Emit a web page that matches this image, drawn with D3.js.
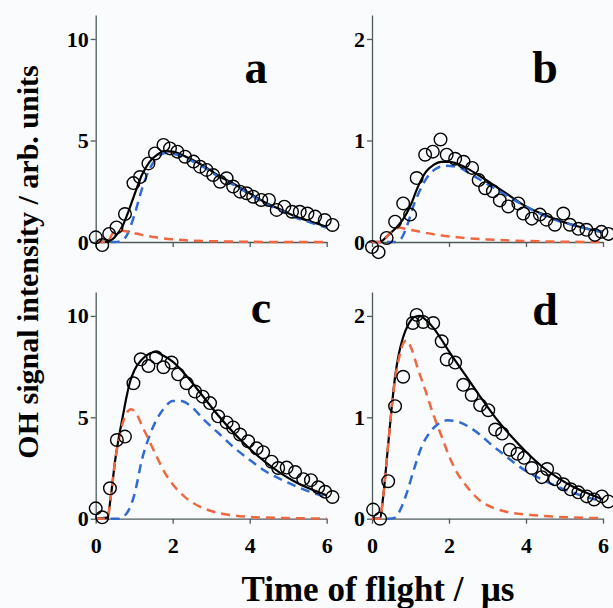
<!DOCTYPE html>
<html>
<head>
<meta charset="utf-8">
<script src="https://cdn.jsdelivr.net/npm/d3@7"></script>
<style>
  body { margin: 0; background: #fafbfd; }
  svg { display: block; font-family: "Liberation Serif", "Times New Roman", serif; font-weight: bold; }
</style>
</head>
<body>
<svg id="chart" width="613" height="608"></svg>
<script>
// ---- data (time in us, signal in arb. units) ----
var panelLabels = ["a", "b", "c", "d"];
var xTickValues = [0, 2, 4, 6];
var yTicksLarge = [0, 5, 10];
var yTicksSmall = [0, 1, 2];

// panel a
var aObs = [[0.0,0.23],[0.17,-0.15],[0.35,0.4],[0.54,0.72],[0.76,1.38],[0.98,2.9],[1.15,3.2],[1.37,3.87],[1.54,4.36],[1.76,4.78],[1.93,4.61],[2.12,4.45],[2.32,4.2],[2.54,3.96],[2.71,3.71],[2.88,3.55],[3.05,3.3],[3.23,2.97],[3.4,3.14],[3.57,2.73],[3.75,2.48],[3.92,2.4],[4.09,2.23],[4.3,2.07],[4.5,2.07],[4.7,1.58],[4.9,1.74],[5.1,1.49],[5.3,1.49],[5.5,1.4],[5.7,1.25],[5.95,1.08],[6.15,0.84]];
var aTotal = [[0,0],[0.3,0.02],[0.5,0.25],[0.7,0.8],[0.85,1.5],[1.0,2.3],[1.2,3.3],[1.4,3.95],[1.6,4.3],[1.8,4.48],[2.0,4.45],[2.4,4.15],[2.8,3.75],[3.2,3.25],[3.6,2.85],[4.0,2.4],[4.4,1.95],[4.8,1.6],[5.2,1.25],[5.6,1.0],[6.0,0.75]];
var aFast = [[0,0],[0.3,0],[0.45,0.45],[0.6,0.58],[0.9,0.48],[1.2,0.35],[1.6,0.22],[2.0,0.13],[2.5,0.07],[3.0,0.04],[4.0,0.01],[5.0,0],[6.0,0]];
var aSlow = [[0,0],[0.5,0],[0.65,0.05],[0.8,0.3],[1.0,1.3],[1.2,2.6],[1.4,3.6],[1.6,4.15],[1.8,4.38],[2.0,4.35],[2.4,4.08],[2.8,3.7],[3.2,3.2],[3.6,2.8],[4.0,2.35],[4.4,1.9],[4.8,1.55],[5.2,1.2],[5.6,0.95],[6.0,0.7]];

// panel b
var bObs = [[0.0,-0.05],[0.17,-0.1],[0.38,0.04],[0.6,0.2],[0.81,0.38],[0.99,0.27],[1.16,0.63],[1.38,0.86],[1.58,0.89],[1.78,1.01],[1.94,0.86],[2.16,0.82],[2.38,0.79],[2.6,0.73],[2.77,0.61],[2.94,0.53],[3.14,0.5],[3.32,0.41],[3.54,0.35],[3.8,0.38],[3.93,0.28],[4.15,0.23],[4.36,0.27],[4.53,0.22],[4.75,0.17],[4.97,0.28],[5.14,0.17],[5.36,0.13],[5.57,0.12],[5.79,0.07],[5.96,0.1],[6.14,0.08]];
var bTotal = [[0,0],[0.2,0],[0.4,0.06],[0.6,0.13],[0.8,0.22],[1.0,0.36],[1.2,0.55],[1.4,0.69],[1.6,0.76],[1.8,0.79],[2.0,0.79],[2.4,0.74],[2.8,0.65],[3.2,0.55],[3.6,0.45],[4.0,0.35],[4.4,0.28],[4.8,0.22],[5.2,0.17],[5.6,0.13],[6.0,0.1]];
var bFast = [[0,0],[0.25,0],[0.45,0.08],[0.7,0.14],[1.0,0.12],[1.4,0.09],[1.8,0.065],[2.4,0.04],[3.0,0.025],[4.0,0.01],[5.0,0.003],[6.0,0]];
var bSlow = [[0,0],[0.6,0],[0.75,0.03],[0.9,0.15],[1.1,0.38],[1.3,0.55],[1.5,0.67],[1.7,0.73],[1.9,0.75],[2.2,0.74],[2.6,0.66],[3.0,0.57],[3.4,0.48],[3.8,0.39],[4.2,0.31],[4.6,0.24],[5.0,0.19],[5.4,0.15],[5.8,0.11],[6.0,0.1]];

// panel c
var cObs = [[0.0,0.51],[0.17,0.07],[0.37,1.5],[0.55,3.88],[0.76,4.05],[0.98,6.68],[1.17,7.86],[1.37,7.53],[1.57,7.96],[1.76,7.47],[1.97,7.7],[2.14,7.12],[2.36,6.68],[2.58,6.27],[2.78,6.02],[2.97,5.7],[3.18,5.05],[3.4,4.75],[3.57,4.5],[3.75,4.15],[3.96,3.82],[4.18,3.47],[4.35,3.28],[4.57,2.81],[4.74,2.5],[4.96,2.52],[5.18,2.3],[5.39,1.95],[5.59,1.9],[5.78,1.55],[5.96,1.33],[6.15,1.07]];
var cTotal = [[0,0],[0.3,0.05],[0.4,1.2],[0.5,2.8],[0.6,4.0],[0.7,5.0],[0.8,6.0],[0.9,6.8],[1.0,7.3],[1.2,7.85],[1.4,8.15],[1.55,8.22],[1.7,8.1],[2.0,7.75],[2.4,6.95],[2.8,6.0],[3.2,5.05],[3.6,4.2],[4.0,3.45],[4.4,2.8],[4.8,2.25],[5.2,1.8],[5.6,1.45],[6.0,1.15]];
var cFast = [[0,0],[0.3,0],[0.4,1.2],[0.5,2.8],[0.6,3.9],[0.7,4.7],[0.8,5.2],[0.92,5.4],[1.05,5.2],[1.2,4.6],[1.4,3.8],[1.6,3.0],[1.8,2.25],[2.0,1.7],[2.3,1.1],[2.6,0.7],[3.0,0.38],[3.5,0.18],[4.0,0.09],[5.0,0.03],[6.0,0.01]];
var cSlow = [[0,0],[0.6,0],[0.72,0.1],[0.85,0.4],[1.0,1.15],[1.2,2.9],[1.4,4.1],[1.6,4.95],[1.8,5.5],[2.0,5.8],[2.2,5.8],[2.5,5.5],[2.8,4.9],[3.2,4.2],[3.6,3.5],[4.0,2.9],[4.4,2.35],[4.8,1.95],[5.2,1.6],[5.6,1.3],[6.0,1.05]];

// panel d
var dObs = [[0.03,0.09],[0.21,0.0],[0.42,0.37],[0.6,1.11],[0.81,1.4],[1.06,1.93],[1.16,2.01],[1.33,1.94],[1.59,1.93],[1.81,1.75],[1.94,1.57],[2.16,1.54],[2.37,1.32],[2.59,1.22],[2.81,1.12],[3.02,1.07],[3.2,0.88],[3.38,0.84],[3.58,0.68],[3.78,0.64],[3.95,0.6],[4.15,0.5],[4.41,0.41],[4.55,0.49],[4.75,0.39],[4.97,0.34],[5.16,0.29],[5.36,0.26],[5.58,0.22],[5.77,0.19],[5.97,0.22],[6.14,0.17]];
var dTotal = [[0,0],[0.2,0],[0.3,0.25],[0.4,0.65],[0.5,1.05],[0.6,1.4],[0.7,1.63],[0.8,1.78],[0.95,1.92],[1.1,1.99],[1.25,2.0],[1.4,1.96],[1.6,1.88],[1.8,1.77],[2.0,1.65],[2.4,1.43],[2.8,1.21],[3.2,1.0],[3.6,0.82],[4.0,0.66],[4.4,0.52],[4.8,0.41],[5.2,0.32],[5.6,0.25],[6.0,0.19]];
var dFast = [[0,0],[0.2,0],[0.3,0.25],[0.4,0.65],[0.5,1.05],[0.6,1.38],[0.7,1.58],[0.8,1.72],[0.9,1.76],[1.0,1.7],[1.2,1.47],[1.4,1.25],[1.6,1.02],[1.8,0.82],[2.0,0.62],[2.2,0.46],[2.5,0.3],[2.8,0.18],[3.2,0.1],[3.6,0.06],[4.2,0.035],[5.0,0.015],[6.0,0.005]];
var dSlow = [[0,0],[0.45,0],[0.6,0.01],[0.75,0.1],[0.9,0.25],[1.1,0.5],[1.3,0.72],[1.5,0.85],[1.7,0.93],[1.95,0.97],[2.2,0.96],[2.5,0.91],[2.8,0.83],[3.1,0.73],[3.4,0.64],[3.7,0.55],[4.0,0.47],[4.4,0.39],[4.8,0.32],[5.2,0.26],[5.6,0.21],[6.0,0.17]];

var panels = [
    {label: panelLabels[0], obs: aObs, total: aTotal, fast: aFast, slow: aSlow, ymax: 11.18, yticks: yTicksLarge, left: 95.7, top: 15,  bottom: 242,   xlabels: false, lx: 256, ly: 83},
    {label: panelLabels[1], obs: bObs, total: bTotal, fast: bFast, slow: bSlow, ymax: 2.236, yticks: yTicksSmall, left: 372,  top: 15,  bottom: 242,   xlabels: false, lx: 545, ly: 83},
    {label: panelLabels[2], obs: cObs, total: cTotal, fast: cFast, slow: cSlow, ymax: 11.18, yticks: yTicksLarge, left: 95.7, top: 292, bottom: 518.7, xlabels: true,  lx: 261, ly: 323},
    {label: panelLabels[3], obs: dObs, total: dTotal, fast: dFast, slow: dSlow, ymax: 2.236, yticks: yTicksSmall, left: 372,  top: 292, bottom: 518.7, xlabels: true,  lx: 545, ly: 325}
];

var plotW = 231;   // width for 0..6 us
var axisColor = "#4f5a5a";
var blue = "#2f6bd0", orange = "#ef6840";

var svg = d3.select("#chart");

panels.forEach(function(p){
    var x = d3.scaleLinear().domain([0, 6]).range([p.left, p.left + plotW]);
    var y = d3.scaleLinear().domain([0, p.ymax]).range([p.bottom, p.top]);
    var g = svg.append("g");

    // y axis
    var ya = g.append("g")
        .attr("transform", "translate(" + p.left + ",0)")
        .call(d3.axisLeft(y).tickValues(p.yticks).tickSize(5).tickSizeOuter(0).tickPadding(2).tickFormat(d3.format("d")));
    ya.select(".domain").attr("stroke", axisColor).attr("stroke-width", 1.3);
    ya.selectAll(".tick line").attr("stroke", axisColor).attr("stroke-width", 1.3);
    ya.selectAll(".tick text").attr("font-size", 22).attr("font-family", "Liberation Serif, serif").attr("font-weight", "bold").attr("fill", "#000");

    // x axis
    var xa = g.append("g")
        .attr("transform", "translate(0," + p.bottom + ")")
        .call(d3.axisBottom(x).tickValues(xTickValues).tickSize(5).tickSizeOuter(0).tickPadding(14).tickFormat(p.xlabels ? d3.format("d") : ""));
    xa.select(".domain").attr("stroke", axisColor).attr("stroke-width", 1.3);
    xa.selectAll(".tick line").attr("stroke", axisColor).attr("stroke-width", 1.3);
    xa.selectAll(".tick text").attr("font-size", 22).attr("font-family", "Liberation Serif, serif").attr("font-weight", "bold").attr("fill", "#000");

    var line = d3.line()
        .x(function(d){ return x(d[0]); })
        .y(function(d){ return y(d[1]); })
        .curve(d3.curveMonotoneX);

    // total fit underneath, components dashed on top
    g.append("path").datum(p.total)
        .attr("d", line).attr("fill", "none")
        .attr("stroke", "#000").attr("stroke-width", 2.2);
    g.append("path").datum(p.slow)
        .attr("d", line).attr("fill", "none")
        .attr("stroke", blue).attr("stroke-width", 2.5).attr("stroke-dasharray", "9,6");
    g.append("path").datum(p.fast)
        .attr("d", line).attr("fill", "none")
        .attr("stroke", orange).attr("stroke-width", 2.5).attr("stroke-dasharray", "9,6");

    // measured points
    g.selectAll("circle.obs").data(p.obs).enter().append("circle")
        .attr("class", "obs")
        .attr("cx", function(d){ return x(d[0]); })
        .attr("cy", function(d){ return y(d[1]); })
        .attr("r", 6.3)
        .attr("fill", "none")
        .attr("stroke", "#000")
        .attr("stroke-width", 1.4);

    // panel letter
    g.append("text")
        .attr("x", p.lx).attr("y", p.ly)
        .attr("text-anchor", "middle")
        .attr("font-size", 46)
        .text(p.label);
});

// axis titles
svg.append("text")
    .attr("x", 378).attr("y", 601)
    .attr("text-anchor", "middle")
    .attr("font-size", 35)
    .style("white-space", "pre")
    .text("Time of flight /  \u03bcs");

svg.append("text")
    .attr("transform", "translate(38,262) rotate(-90)")
    .attr("text-anchor", "middle")
    .attr("font-size", 30)
    .text("OH signal intensity / arb. units");
</script>
</body>
</html>
